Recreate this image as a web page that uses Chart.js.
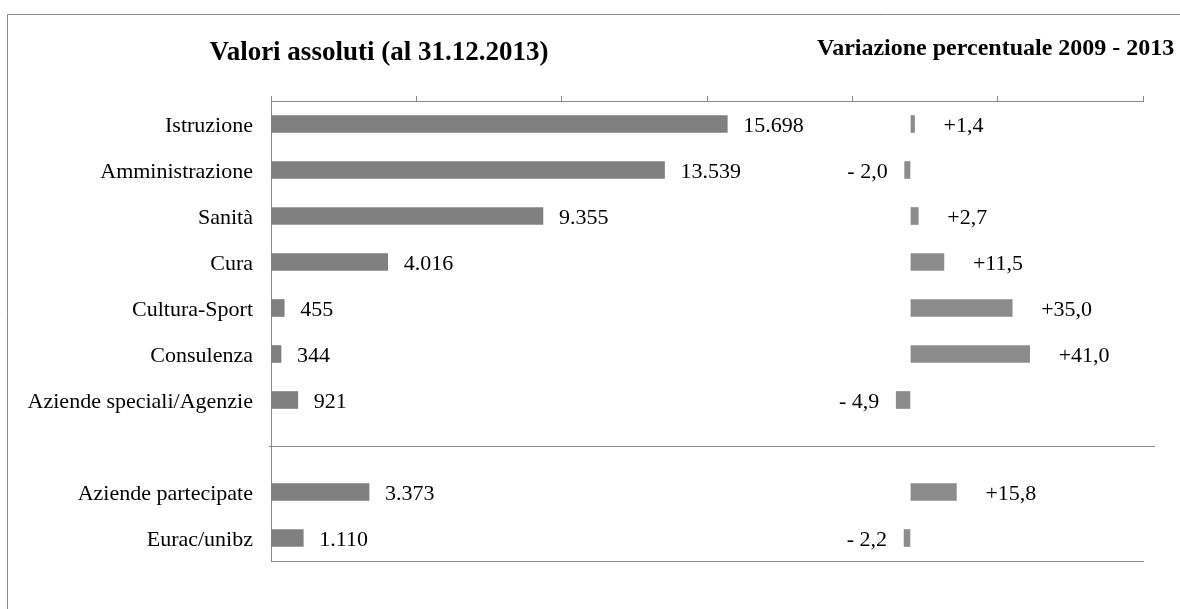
<!DOCTYPE html>
<html lang="it">
<head>
<meta charset="utf-8">
<title>Valori assoluti e variazione percentuale</title>
<script src="https://cdn.jsdelivr.net/npm/chart.js@4/dist/chart.umd.min.js"></script>
<style>
  html, body { margin: 0; padding: 0; background: #fff; }
  #wrap { position: relative; width: 1180px; height: 609px; }
</style>
</head>
<body>
<div id="wrap"><canvas id="c" width="1180" height="609"></canvas></div>
<script>
// Categories (the empty entry is the spacer row before the second group)
const categories = [
  'Istruzione', 'Amministrazione', 'Sanità', 'Cura', 'Cultura-Sport',
  'Consulenza', 'Aziende speciali/Agenzie', '', 'Aziende partecipate', 'Eurac/unibz'
];
// Employees at 31.12.2013
const absoluteValues = [15698, 13539, 9355, 4016, 455, 344, 921, null, 3373, 1110];
// Percentage change 2009 - 2013
const pctChange = [1.4, -2.0, 2.7, 11.5, 35.0, 41.0, -4.9, null, 15.8, -2.2];
// Absolute axis range and tick step
const absAxis = { min: 0, max: 30000, step: 5000 };
// Percentage axis range (shares the plot width with the absolute axis)
const pctAxis = { min: -220, max: 80 };

const titleLeft = 'Valori assoluti (al 31.12.2013)';
const titleRight = 'Variazione percentuale 2009 - 2013';

const SERIF = '"Liberation Serif", "Times New Roman", serif';
const AXIS_GRAY = '#898989';

function fmtThousands(v) {
  return String(Math.round(v)).replace(/\B(?=(\d{3})+(?!\d))/g, '.');
}
function fmtPct(v) {
  const s = Math.abs(v).toFixed(1).replace('.', ',');
  return v < 0 ? '- ' + s : '+' + s;
}

// Frame, titles, group separator and value labels
const decorations = {
  id: 'decorations',
  beforeDraw(chart) {
    const ctx = chart.ctx;
    ctx.save();
    ctx.fillStyle = '#fff';
    ctx.fillRect(0, 0, chart.width, chart.height);
    ctx.strokeStyle = AXIS_GRAY;
    ctx.lineWidth = 1;
    ctx.beginPath();
    ctx.moveTo(7.5, chart.height + 5);
    ctx.lineTo(7.5, 14.5);
    ctx.lineTo(chart.width + 5, 14.5);
    ctx.stroke();
    ctx.restore();
  },
  afterDraw(chart) {
    const ctx = chart.ctx;
    const y = chart.scales.y;
    ctx.save();

    // separator between the two groups
    const sepY = Math.round(y.getPixelForValue(7)) + 0.5;
    ctx.strokeStyle = AXIS_GRAY;
    ctx.lineWidth = 1;
    ctx.beginPath();
    ctx.moveTo(269, sepY);
    ctx.lineTo(1155, sepY);
    ctx.stroke();

    // titles
    ctx.fillStyle = '#000';
    ctx.textBaseline = 'alphabetic';
    ctx.font = 'bold 27px ' + SERIF;
    ctx.textAlign = 'center';
    ctx.fillText(titleLeft, 379, 60);
    ctx.font = 'bold 24px ' + SERIF;
    ctx.textAlign = 'left';
    ctx.fillText(titleRight, 817, 55);

    // value labels
    ctx.font = '22px ' + SERIF;
    ctx.textBaseline = 'middle';
    chart.getDatasetMeta(0).data.forEach((el, i) => {
      const v = absoluteValues[i];
      if (v == null) return;
      ctx.textAlign = 'left';
      ctx.fillText(fmtThousands(v), el.x + 16, el.y + 2);
    });
    chart.getDatasetMeta(1).data.forEach((el, i) => {
      const v = pctChange[i];
      if (v == null) return;
      if (v >= 0) {
        ctx.textAlign = 'left';
        ctx.fillText(fmtPct(v), el.x + 29, el.y + 2);
      } else {
        ctx.textAlign = 'right';
        ctx.fillText(fmtPct(v), el.x - 17, el.y + 2);
      }
    });
    ctx.restore();
  }
};

new Chart(document.getElementById('c'), {
  type: 'bar',
  data: {
    labels: categories,
    datasets: [
      {
        label: titleLeft,
        data: absoluteValues,
        xAxisID: 'x',
        backgroundColor: '#808080',
        barThickness: 17,
        grouped: false
      },
      {
        label: titleRight,
        data: pctChange,
        xAxisID: 'x2',
        backgroundColor: '#8c8c8c',
        barThickness: 17,
        grouped: false
      }
    ]
  },
  options: {
    indexAxis: 'y',
    responsive: false,
    animation: false,
    devicePixelRatio: 1,
    layout: { padding: { top: 96, right: 37, bottom: 48, left: 0 } },
    plugins: {
      legend: { display: false },
      tooltip: { enabled: false },
      title: { display: false }
    },
    scales: {
      x: {
        type: 'linear',
        position: 'top',
        min: absAxis.min,
        max: absAxis.max,
        ticks: { display: false, stepSize: absAxis.step },
        grid: { drawOnChartArea: false, drawTicks: true, tickLength: 5, color: AXIS_GRAY },
        border: { color: AXIS_GRAY },
        afterFit(s) { s.height = 5; }
      },
      x2: {
        type: 'linear',
        position: 'bottom',
        min: pctAxis.min,
        max: pctAxis.max,
        ticks: { display: false },
        grid: { drawOnChartArea: false, drawTicks: false },
        border: { display: true, color: AXIS_GRAY },
        afterFit(s) { s.height = 0; }
      },
      y: {
        type: 'category',
        ticks: { color: '#000', padding: 18, labelOffset: 2, font: { family: SERIF, size: 22 } },
        grid: { drawOnChartArea: false, drawTicks: false },
        border: { color: AXIS_GRAY },
        afterFit(s) { s.width = 271; }
      }
    }
  },
  plugins: [decorations]
});
</script>
</body>
</html>
